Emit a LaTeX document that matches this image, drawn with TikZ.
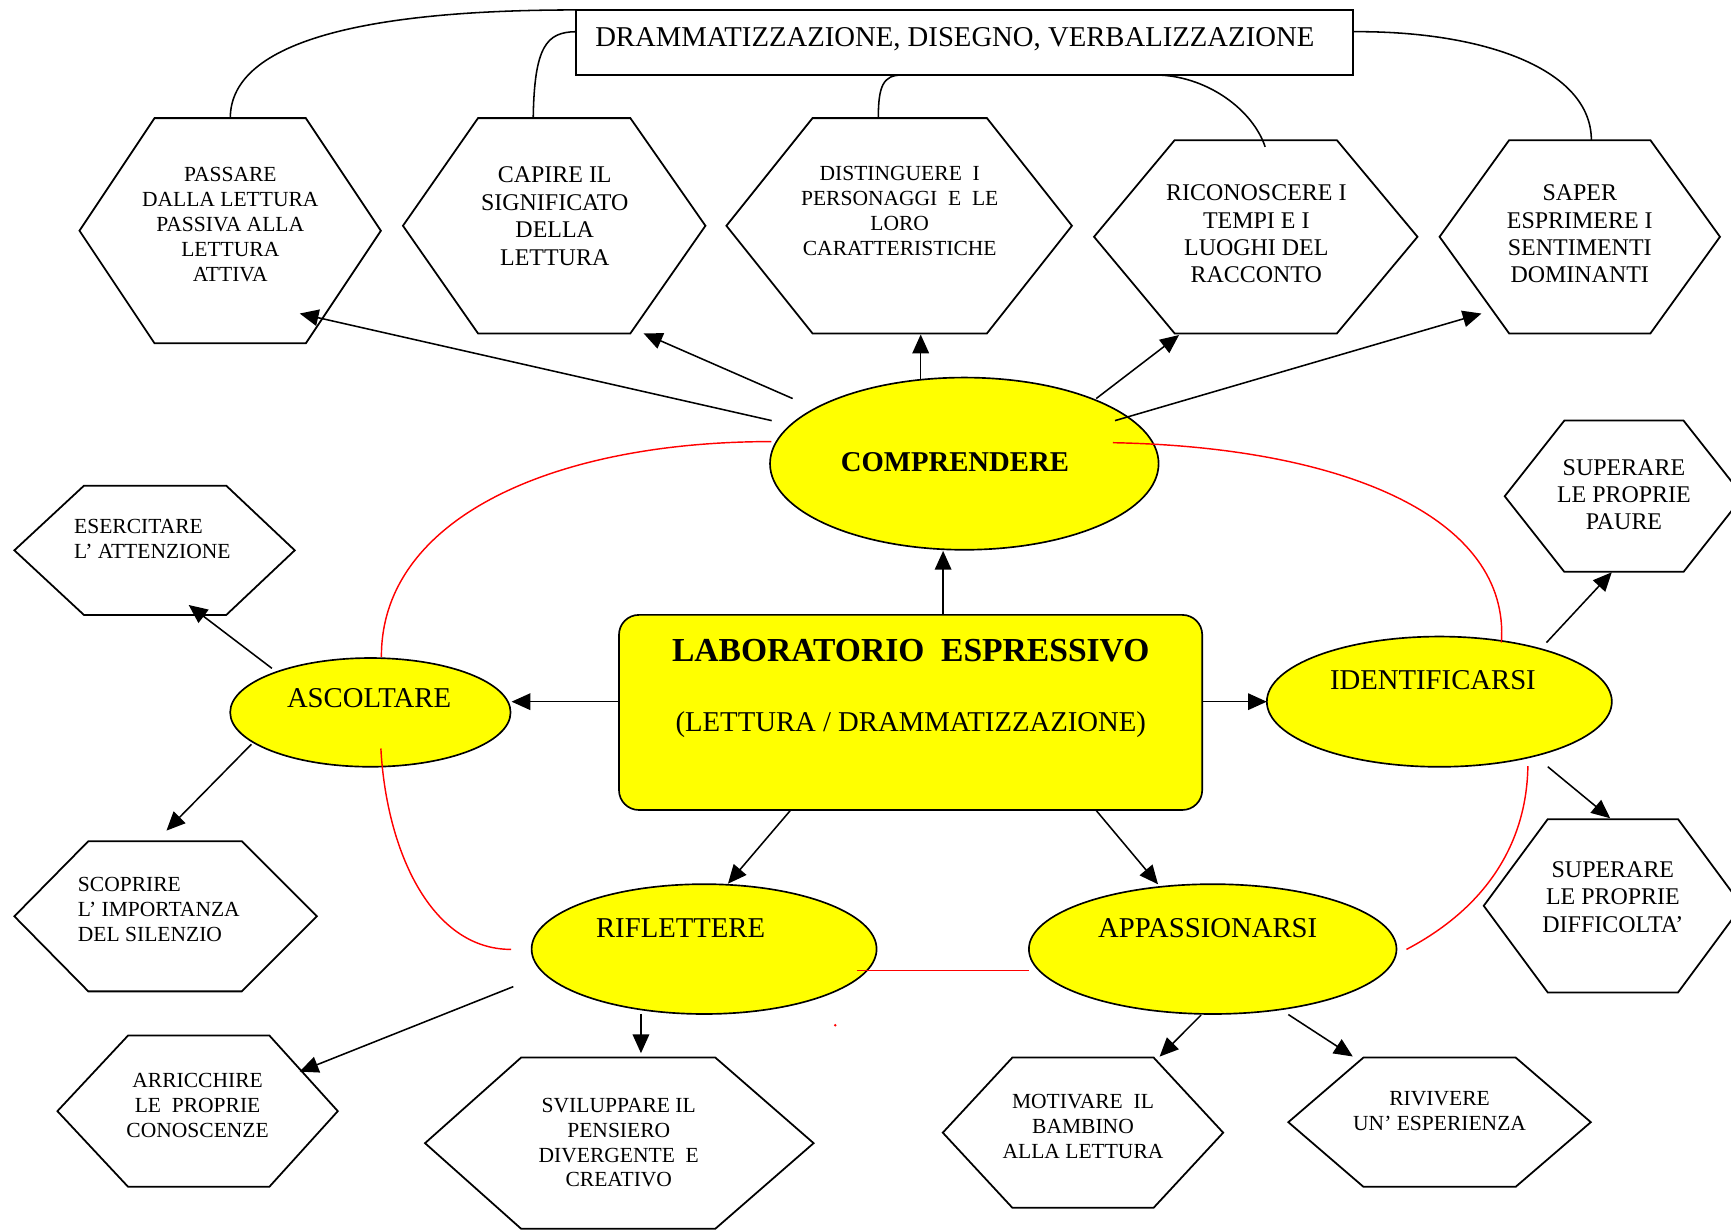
\documentclass[tikz,border=0pt]{standalone}
\usepackage{fontspec}
\setmainfont{Liberation Serif}
\usetikzlibrary{arrows.meta,shapes.geometric}

\definecolor{ovalyellow}{RGB}{255,255,0}
\definecolor{ringred}{RGB}{255,0,0}

% hexagon with pointed left/right ends: xL, xTL, xTR, xR, yTop, yBottom
\newcommand\hexcell[6]{%
  \draw[hexline] (#1,{(#5+#6)/2}) -- (#2,#5) -- (#3,#5) -- (#4,{(#5+#6)/2})
    -- (#3,#6) -- (#2,#6) -- cycle;}

\tikzset{
  hexline/.style={draw=black, line width=1.6pt, line join=miter},
  oval/.style={ellipse, draw=black, line width=1.5pt, fill=ovalyellow, inner sep=0pt},
  link/.style={draw=black, line width=1.4pt},
  arr/.style={link, -{Triangle[length=17pt,width=15pt]}},
  redlink/.style={draw=ringred, line width=1.3pt},
  txs/.style={inner sep=0pt, align=center, font=\fontsize{19.5}{22.6}\selectfont},
  txm/.style={inner sep=0pt, align=center, font=\fontsize{21.7}{24.8}\selectfont},
  txl/.style={inner sep=0pt, font=\fontsize{26}{30}\selectfont},
  txb/.style={inner sep=0pt, font=\fontsize{26}{30}\selectfont\bfseries},
}

\begin{document}
\begin{tikzpicture}[x=1pt,y=-1pt]
\fill[white] (0,0) rectangle (1568,1114);
\useasboundingbox (0,0) rectangle (1568,1114);

% ---- hexagons ----
\hexcell{72}{140}{277}{345}{107}{311}
\hexcell{365}{433}{571}{639}{107}{302}
\hexcell{658}{736}{894}{971}{107}{302}
\hexcell{991}{1064}{1211}{1284}{127}{302}
\hexcell{1304}{1367}{1495}{1558}{127}{302}
\hexcell{13}{76}{205}{267}{440}{557}
\hexcell{1363}{1417}{1525}{1579}{381}{518}
\hexcell{1344}{1402}{1520}{1578}{742}{899}
\hexcell{13}{80}{219}{287}{762}{898}
\hexcell{52}{116}{244}{306}{938}{1075}
\hexcell{385}{472}{648}{737}{958}{1113}
\hexcell{854}{917}{1045}{1108}{958}{1094}
\hexcell{1167}{1235}{1373}{1441}{958}{1075}

% ---- boxes and ovals ----
\node[draw, line width=1.4pt, minimum width=703.7pt, minimum height=59pt, inner sep=0pt]
  (topbox) at (873.6,38.5) {};
\node[draw, line width=1.5pt, fill=ovalyellow, rounded corners=18pt,
  minimum width=528.3pt, minimum height=176.7pt, inner sep=0pt] (lab) at (824.85,645.35) {};
\node[oval, minimum width=352pt, minimum height=156pt] (comp) at (873.5,420) {};
\node[oval, minimum width=254pt, minimum height=98.5pt] (asc) at (335.5,645.3) {};
\node[oval, minimum width=312.5pt, minimum height=118pt] (ident) at (1303.8,635.6) {};
\node[oval, minimum width=312.5pt, minimum height=117.6pt] (rifl) at (637.8,859.7) {};
\node[oval, minimum width=333pt, minimum height=117.6pt] (appa) at (1098.5,859.7) {};

% ---- connector end points ----
\coordinate (tb-a) at (521.7,9);     \coordinate (hx1-top) at (208.6,107);
\coordinate (tb-b) at (521.7,28.7);  \coordinate (hx2-top) at (483,107);
\coordinate (tb-c) at (816.7,68);    \coordinate (hx3-top) at (795.6,107);
\coordinate (tb-d) at (1050.5,68);   \coordinate (hx4-top) at (1146,133);
\coordinate (tb-e) at (1226.4,28.7); \coordinate (hx5-top) at (1441.5,127);

\coordinate (comp-1) at (699,381);   \coordinate (hx1-in) at (271.5,284);
\coordinate (comp-2) at (718,361);   \coordinate (hx2-in) at (583,302);
\coordinate (comp-3) at (834,344);   \coordinate (hx3-in) at (834,303);
\coordinate (comp-4) at (993,361);   \coordinate (hx4-in) at (1068,303.5);
\coordinate (comp-5) at (1010,381);  \coordinate (hx5-in) at (1342,284);

\coordinate (lab-n) at (854.3,557);  \coordinate (comp-s) at (854.3,499);
\coordinate (lab-w) at (560.7,635.6); \coordinate (asc-e) at (463.4,635.6);
\coordinate (lab-e) at (1089,635.6); \coordinate (ident-w) at (1147.5,635.6);
\coordinate (lab-sw) at (716.3,733.7); \coordinate (rifl-n) at (659.4,800.5);
\coordinate (lab-se) at (992.6,733.7); \coordinate (appa-n) at (1049,801);

\coordinate (asc-1) at (246.3,605.4); \coordinate (hx6-in) at (170.9,548);
\coordinate (asc-2) at (227.7,674.2); \coordinate (hx9-in) at (150.8,752.4);
\coordinate (ident-1) at (1400.8,582.1); \coordinate (hx7-in) at (1460,518.4);
\coordinate (ident-2) at (1402,694.5); \coordinate (hx8-in) at (1458.6,741.2);
\coordinate (rifl-1) at (465,893.7); \coordinate (hx10-in) at (271.4,970.7);
\coordinate (rifl-2) at (580.6,918.5); \coordinate (hx11-in) at (580.6,954);
\coordinate (appa-1) at (1088,919.4); \coordinate (hx12-in) at (1050.4,957.1);
\coordinate (appa-2) at (1167,919); \coordinate (hx13-in) at (1225.4,957);

\coordinate (comp-rw) at (698.7,400); \coordinate (asc-rn) at (345.5,595);
\coordinate (comp-re) at (1008,401); \coordinate (ident-rn) at (1360,582);
\coordinate (asc-rs) at (345,678);   \coordinate (rifl-rw) at (463,860);
\coordinate (rifl-re) at (776,879);  \coordinate (appa-rw) at (932,879);
\coordinate (appa-re) at (1274,860); \coordinate (ident-rs) at (1384,694);

% ---- curves from the top box ----
\draw[link] (tb-a) .. controls (340,9) and (208.6,35) .. (hx1-top);
\draw[link] (tb-b) .. controls (495,29) and (484,42) .. (hx2-top);
\draw[link] (tb-c) .. controls (800,68) and (795.6,78) .. (hx3-top);
\draw[link] (tb-d) .. controls (1095,70) and (1135,100) .. (hx4-top);
\draw[link] (tb-e) .. controls (1345,28) and (1441.5,63) .. (hx5-top);

% ---- red ring ----
\draw[redlink] (comp-rw) .. controls (500,400) and (345,470) .. (asc-rn);
\draw[redlink] (comp-re) .. controls (1220,405) and (1368,470) .. (ident-rn);
\draw[redlink] (asc-rs) .. controls (350,770) and (390,860) .. (rifl-rw);
\draw[redlink] (rifl-re) -- (appa-rw);
\draw[redlink] (appa-re) .. controls (1350,820) and (1383,760) .. (ident-rs);
\fill[ringred] (756.6,928.7) circle (1.2pt);

% ---- arrows ----
\draw[arr] (comp-1) -- (hx1-in);
\draw[arr] (comp-2) -- (hx2-in);
\draw[arr] (comp-3) -- (hx3-in);
\draw[arr] (comp-4) -- (hx4-in);
\draw[arr] (comp-5) -- (hx5-in);
\draw[arr] (lab-n) -- (comp-s);
\draw[arr] (lab-w) -- (asc-e);
\draw[arr] (lab-e) -- (ident-w);
\draw[arr] (lab-sw) -- (rifl-n);
\draw[arr] (lab-se) -- (appa-n);
\draw[arr] (asc-1) -- (hx6-in);
\draw[arr] (asc-2) -- (hx9-in);
\draw[arr] (ident-1) -- (hx7-in);
\draw[arr] (ident-2) -- (hx8-in);
\draw[arr] (rifl-1) -- (hx10-in);
\draw[arr] (rifl-2) -- (hx11-in);
\draw[arr] (appa-1) -- (hx12-in);
\draw[arr] (appa-2) -- (hx13-in);

% ---- texts ----
\node[txl, anchor=base west] (toptext) at (539,42.5) {DRAMMATIZZAZIONE, DISEGNO, VERBALIZZAZIONE};
\node[inner sep=0pt, font=\fontsize{30.4}{36}\selectfont\bfseries] (labtitle) at (825,589.5) {LABORATORIO~ ESPRESSIVO};
\node[txl, anchor=base] (labsub) at (825,662.2) {(LETTURA / DRAMMATIZZAZIONE)};
\node[txb] (comptext) at (865,418.2) {COMPRENDERE};
\node[txl] (asctext) at (334.3,632.4) {ASCOLTARE};
\node[txl] (identtext) at (1298,616) {IDENTIFICARSI};
\node[txl] (rifltext) at (616.5,840.3) {RIFLETTERE};
\node[txl] (appatext) at (1094,840.3) {APPASSIONARSI};

\node[txs] (passare) at (208.6,203.7) {PASSARE\\DALLA LETTURA\\PASSIVA ALLA\\LETTURA\\ATTIVA};
\node[txm] (capire) at (502.5,195.8) {CAPIRE IL\\SIGNIFICATO\\DELLA\\LETTURA};
\node[txs] (distinguere) at (815,191) {DISTINGUERE~ I\\PERSONAGGI~ E~ LE\\LORO\\CARATTERISTICHE};
\node[txm] (riconoscere) at (1138,212) {RICONOSCERE I\\TEMPI E I\\LUOGHI DEL\\RACCONTO};
\node[txm] (saper) at (1431,212) {SAPER\\ESPRIMERE I\\SENTIMENTI\\DOMINANTI};
\node[txs, align=left, anchor=west] (esercitare) at (67,488) {ESERCITARE\\L’ ATTENZIONE};
\node[txm] (paure) at (1471,448) {SUPERARE\\LE PROPRIE\\PAURE};
\node[txm] (difficolta) at (1461,812.5) {SUPERARE\\LE PROPRIE\\DIFFICOLTA’};
\node[txs, align=left, anchor=west] (scoprire) at (70.4,823.8) {SCOPRIRE\\L’ IMPORTANZA\\DEL SILENZIO};
\node[txs] (arricchire) at (179,1001) {ARRICCHIRE\\LE~ PROPRIE\\CONOSCENZE};
\node[txs] (sviluppare) at (560.5,1035) {SVILUPPARE IL\\PENSIERO\\DIVERGENTE~ E\\CREATIVO};
\node[txs] (motivare) at (981,1020.5) {MOTIVARE~ IL\\BAMBINO\\ALLA LETTURA};
\node[txs] (rivivere) at (1304,1006.2) {RIVIVERE\\UN’ ESPERIENZA};
\end{tikzpicture}
\end{document}
